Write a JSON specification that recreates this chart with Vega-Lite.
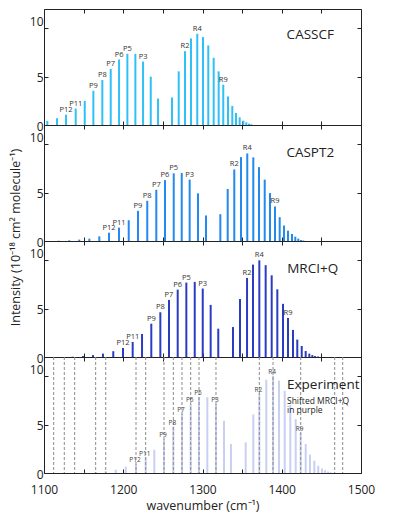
{
  "$schema": "https://vega.github.io/schema/vega-lite/v6.json",
  "padding": {"left": 8, "top": 8, "right": 5, "bottom": 5},
  "config": {
    "font": "Open Sans",
    "view": {"stroke": "#222", "strokeWidth": 1},
    "text": {"fontWeight": "normal", "font": "Open Sans"},
    "axis": {"grid": false, "domain": false, "tickColor": "#222", "tickSize": -4, "labelFontSize": 12, "labelColor": "#222", "titleFontSize": 12.5, "titleFontWeight": "normal", "titleColor": "#222", "labelFont": "Open Sans", "titleFont": "Open Sans", "labelFlush": false}
  },
  "datasets": {
    "casscf": [
      {"wn": 1104.2, "I": 0.42, "lab": ""}, {"wn": 1116.4, "I": 0.70, "lab": ""},
      {"wn": 1127.8, "I": 1.07, "lab": "P12"}, {"wn": 1140.0, "I": 1.70, "lab": "P11"},
      {"wn": 1151.4, "I": 2.50, "lab": ""}, {"wn": 1162.3, "I": 3.54, "lab": "P9"},
      {"wn": 1173.6, "I": 4.65, "lab": "P8"}, {"wn": 1184.2, "I": 5.80, "lab": "P7"},
      {"wn": 1194.7, "I": 6.77, "lab": "P6"}, {"wn": 1205.2, "I": 7.36, "lab": "P5"},
      {"wn": 1215.3, "I": 7.36, "lab": ""}, {"wn": 1225.0, "I": 6.56, "lab": "P3"},
      {"wn": 1234.7, "I": 5.00, "lab": ""}, {"wn": 1243.9, "I": 2.74, "lab": ""},
      {"wn": 1261.5, "I": 2.85, "lab": ""}, {"wn": 1270.0, "I": 5.55, "lab": ""},
      {"wn": 1277.9, "I": 7.64, "lab": "R2"}, {"wn": 1285.5, "I": 8.96, "lab": ""},
      {"wn": 1293.4, "I": 9.44, "lab": "R4"}, {"wn": 1300.6, "I": 9.10, "lab": ""},
      {"wn": 1307.3, "I": 8.23, "lab": ""}, {"wn": 1314.1, "I": 6.95, "lab": ""},
      {"wn": 1320.4, "I": 5.55, "lab": ""}, {"wn": 1326.2, "I": 4.17, "lab": "R9"},
      {"wn": 1332.2, "I": 2.95, "lab": ""}, {"wn": 1337.6, "I": 1.98, "lab": ""},
      {"wn": 1342.3, "I": 1.25, "lab": ""}, {"wn": 1346.9, "I": 0.80, "lab": ""},
      {"wn": 1351.5, "I": 0.45, "lab": ""}, {"wn": 1355.3, "I": 0.28, "lab": ""},
      {"wn": 1358.7, "I": 0.14, "lab": ""}, {"wn": 1361.6, "I": 0.08, "lab": ""}
    ],
    "caspt2": [
      {"wn": 1118.5, "I": 0.03, "lab": ""}, {"wn": 1131.9, "I": 0.07, "lab": ""},
      {"wn": 1144.5, "I": 0.14, "lab": ""}, {"wn": 1157.2, "I": 0.24, "lab": ""},
      {"wn": 1169.8, "I": 0.48, "lab": ""}, {"wn": 1182.0, "I": 0.86, "lab": "P12"},
      {"wn": 1194.6, "I": 1.38, "lab": "P11"}, {"wn": 1206.9, "I": 2.15, "lab": ""},
      {"wn": 1218.6, "I": 3.12, "lab": "P9"}, {"wn": 1230.3, "I": 4.16, "lab": "P8"},
      {"wn": 1241.7, "I": 5.30, "lab": "P7"}, {"wn": 1252.7, "I": 6.30, "lab": "P6"},
      {"wn": 1263.7, "I": 7.00, "lab": "P5"}, {"wn": 1273.8, "I": 7.04, "lab": ""},
      {"wn": 1283.8, "I": 6.35, "lab": "P3"}, {"wn": 1294.3, "I": 4.93, "lab": ""},
      {"wn": 1304.4, "I": 2.64, "lab": ""}, {"wn": 1322.5, "I": 2.77, "lab": ""},
      {"wn": 1331.8, "I": 5.38, "lab": ""}, {"wn": 1340.1, "I": 7.40, "lab": "R2"},
      {"wn": 1348.6, "I": 8.68, "lab": ""}, {"wn": 1356.5, "I": 9.06, "lab": "R4"},
      {"wn": 1364.1, "I": 8.65, "lab": ""}, {"wn": 1371.3, "I": 7.64, "lab": ""},
      {"wn": 1378.5, "I": 6.35, "lab": ""}, {"wn": 1385.2, "I": 4.96, "lab": ""},
      {"wn": 1391.5, "I": 3.57, "lab": "R9"}, {"wn": 1397.4, "I": 2.46, "lab": ""},
      {"wn": 1402.8, "I": 1.60, "lab": ""}, {"wn": 1407.9, "I": 1.07, "lab": ""},
      {"wn": 1412.9, "I": 0.73, "lab": ""}, {"wn": 1417.1, "I": 0.45, "lab": ""},
      {"wn": 1420.9, "I": 0.24, "lab": ""}, {"wn": 1424.3, "I": 0.10, "lab": ""},
      {"wn": 1427.2, "I": 0.05, "lab": ""}
    ],
    "mrci": [
      {"wn": 1136.2, "I": 0.03, "lab": ""}, {"wn": 1149.2, "I": 0.10, "lab": ""},
      {"wn": 1161.8, "I": 0.20, "lab": ""}, {"wn": 1174.4, "I": 0.35, "lab": ""},
      {"wn": 1187.4, "I": 0.60, "lab": ""}, {"wn": 1199.7, "I": 0.93, "lab": "P12"},
      {"wn": 1211.9, "I": 1.55, "lab": "P11"}, {"wn": 1223.7, "I": 2.38, "lab": ""},
      {"wn": 1235.4, "I": 3.45, "lab": "P9"}, {"wn": 1246.8, "I": 4.63, "lab": "P8"},
      {"wn": 1257.7, "I": 5.90, "lab": "P7"}, {"wn": 1268.7, "I": 6.97, "lab": "P6"},
      {"wn": 1279.6, "I": 7.70, "lab": "P5"}, {"wn": 1290.2, "I": 7.77, "lab": ""},
      {"wn": 1300.3, "I": 7.08, "lab": "P3"}, {"wn": 1310.3, "I": 5.39, "lab": ""},
      {"wn": 1319.9, "I": 2.93, "lab": ""}, {"wn": 1338.5, "I": 3.10, "lab": ""},
      {"wn": 1347.3, "I": 6.00, "lab": ""}, {"wn": 1356.2, "I": 8.18, "lab": "R2"},
      {"wn": 1363.7, "I": 9.56, "lab": ""}, {"wn": 1371.7, "I": 10.00, "lab": "R4"},
      {"wn": 1379.7, "I": 9.50, "lab": ""}, {"wn": 1387.3, "I": 8.45, "lab": ""},
      {"wn": 1394.4, "I": 7.00, "lab": ""}, {"wn": 1401.6, "I": 5.50, "lab": ""},
      {"wn": 1407.9, "I": 4.04, "lab": "R9"}, {"wn": 1414.2, "I": 2.80, "lab": ""},
      {"wn": 1419.6, "I": 1.80, "lab": ""}, {"wn": 1425.2, "I": 1.14, "lab": ""},
      {"wn": 1430.2, "I": 0.62, "lab": ""}, {"wn": 1434.8, "I": 0.35, "lab": ""},
      {"wn": 1438.6, "I": 0.20, "lab": ""}, {"wn": 1442.0, "I": 0.10, "lab": ""},
      {"wn": 1445.7, "I": 0.05, "lab": ""}
    ],
    "expbars": [
      {"wn": 1152.2, "I": 0.03, "lab": ""}, {"wn": 1165.2, "I": 0.10, "lab": ""},
      {"wn": 1177.9, "I": 0.20, "lab": ""}, {"wn": 1190.5, "I": 0.35, "lab": ""},
      {"wn": 1203.1, "I": 0.65, "lab": ""}, {"wn": 1216.1, "I": 0.95, "lab": "P12"},
      {"wn": 1228.3, "I": 1.60, "lab": "P11"}, {"wn": 1239.2, "I": 2.40, "lab": ""},
      {"wn": 1251.4, "I": 3.50, "lab": "P9"}, {"wn": 1263.2, "I": 4.80, "lab": "P8"},
      {"wn": 1274.1, "I": 6.10, "lab": "P7"}, {"wn": 1285.1, "I": 7.10, "lab": "P6"},
      {"wn": 1295.6, "I": 7.83, "lab": "P5"}, {"wn": 1306.1, "I": 7.83, "lab": ""},
      {"wn": 1317.0, "I": 7.15, "lab": "P3"}, {"wn": 1327.1, "I": 5.40, "lab": ""},
      {"wn": 1335.9, "I": 3.00, "lab": ""}, {"wn": 1354.5, "I": 3.17, "lab": ""},
      {"wn": 1364.1, "I": 6.05, "lab": ""}, {"wn": 1371.7, "I": 8.20, "lab": "R2"},
      {"wn": 1380.5, "I": 9.65, "lab": ""}, {"wn": 1389.0, "I": 10.05, "lab": "R4"},
      {"wn": 1396.5, "I": 9.55, "lab": ""}, {"wn": 1403.7, "I": 8.50, "lab": ""},
      {"wn": 1410.8, "I": 7.05, "lab": ""}, {"wn": 1417.6, "I": 5.57, "lab": ""},
      {"wn": 1423.9, "I": 4.15, "lab": "R9"}, {"wn": 1430.2, "I": 3.00, "lab": ""},
      {"wn": 1435.6, "I": 1.90, "lab": ""}, {"wn": 1441.1, "I": 1.27, "lab": ""},
      {"wn": 1446.1, "I": 0.75, "lab": ""}, {"wn": 1450.8, "I": 0.47, "lab": ""},
      {"wn": 1454.6, "I": 0.30, "lab": ""}, {"wn": 1458.4, "I": 0.15, "lab": ""},
      {"wn": 1461.8, "I": 0.08, "lab": ""}
    ],
    "explines": [
      {"wn": 1112.2}, {"wn": 1125.6}, {"wn": 1138.7}, {"wn": 1165.2}, {"wn": 1177.9},
      {"wn": 1216.1}, {"wn": 1228.3}, {"wn": 1251.4}, {"wn": 1263.2}, {"wn": 1274.1},
      {"wn": 1285.1}, {"wn": 1295.6}, {"wn": 1317.0}, {"wn": 1371.7}, {"wn": 1389.0},
      {"wn": 1423.9}, {"wn": 1466.8}, {"wn": 1476.9}
    ],
    "one": [{}]
  },
  "spacing": 0,
  "bounds": "flush",
  "vconcat": [
    {
      "width": 317, "height": 116,
      "layer": [
        {"data": {"name": "casscf"},
         "mark": {"type": "rule", "strokeWidth": 2, "color": "#2fc1f5"},
         "encoding": {
           "x": {"field": "wn", "type": "quantitative", "scale": {"domain": [1100, 1500], "nice": false, "zero": false}, "axis": {"orient": "bottom", "values": [1100, 1150, 1200, 1250, 1300, 1350, 1400, 1450, 1500], "labels": false, "title": null}},
           "y": {"field": "I", "type": "quantitative", "scale": {"domain": [0, 12], "nice": false}, "axis": {"orient": "left", "values": [0, 5, 10], "title": null, "labelPadding": 5, "labelOffset": {"condition": {"test": "datum.value === 10", "value": -7}, "value": 1}}},
           "y2": {"datum": 0}
         }},
        {"data": {"name": "casscf"},
         "transform": [{"filter": "datum.lab"}],
         "mark": {"type": "text", "fontSize": 7.5, "baseline": "bottom", "dy": -1, "color": "#333"},
         "encoding": {
           "x": {"field": "wn", "type": "quantitative", "axis": {"orient": "top", "values": [1100, 1150, 1200, 1250, 1300, 1350, 1400, 1450, 1500], "labels": false, "title": null}},
           "y": {"field": "I", "type": "quantitative", "axis": {"orient": "right", "values": [0, 5, 10], "labels": false, "title": null}},
           "text": {"field": "lab"}
         }},
        {"data": {"name": "one"},
         "mark": {"type": "text", "fontSize": 13.5, "color": "#222"},
         "encoding": {"x": {"datum": 1436, "type": "quantitative", "axis": null}, "y": {"datum": 9.3, "type": "quantitative", "axis": null}, "text": {"value": "CASSCF"}}}
      ],
      "resolve": {"axis": {"x": "independent", "y": "independent"}}
    },
    {
      "width": 317, "height": 116,
      "layer": [
        {"data": {"name": "caspt2"},
         "mark": {"type": "rule", "strokeWidth": 2, "color": "#2189ef"},
         "encoding": {
           "x": {"field": "wn", "type": "quantitative", "scale": {"domain": [1100, 1500], "nice": false, "zero": false}, "axis": {"orient": "bottom", "values": [1100, 1150, 1200, 1250, 1300, 1350, 1400, 1450, 1500], "labels": false, "title": null}},
           "y": {"field": "I", "type": "quantitative", "scale": {"domain": [0, 12], "nice": false}, "axis": {"orient": "left", "values": [0, 5, 10], "title": "Intensity (10⁻¹⁸ cm² molecule⁻¹)", "titleY": 112, "titlePadding": 7, "labelPadding": 5, "labelOffset": {"condition": {"test": "datum.value === 10", "value": -7}, "value": 1}}},
           "y2": {"datum": 0}
         }},
        {"data": {"name": "caspt2"},
         "transform": [{"filter": "datum.lab"}],
         "mark": {"type": "text", "fontSize": 7.5, "baseline": "bottom", "dy": -1, "color": "#333"},
         "encoding": {
           "x": {"field": "wn", "type": "quantitative", "axis": {"orient": "top", "values": [1100, 1150, 1200, 1250, 1300, 1350, 1400, 1450, 1500], "labels": false, "title": null}},
           "y": {"field": "I", "type": "quantitative", "axis": {"orient": "right", "values": [0, 5, 10], "labels": false, "title": null}},
           "text": {"field": "lab"}
         }},
        {"data": {"name": "one"},
         "mark": {"type": "text", "fontSize": 13.5, "color": "#222"},
         "encoding": {"x": {"datum": 1436, "type": "quantitative", "axis": null}, "y": {"datum": 9.1, "type": "quantitative", "axis": null}, "text": {"value": "CASPT2"}}}
      ],
      "resolve": {"axis": {"x": "independent", "y": "independent"}}
    },
    {
      "width": 317, "height": 116,
      "layer": [
        {"data": {"name": "mrci"},
         "mark": {"type": "rule", "strokeWidth": 2, "color": "#2a3cc2"},
         "encoding": {
           "x": {"field": "wn", "type": "quantitative", "scale": {"domain": [1100, 1500], "nice": false, "zero": false}, "axis": {"orient": "bottom", "values": [1100, 1150, 1200, 1250, 1300, 1350, 1400, 1450, 1500], "labels": false, "title": null}},
           "y": {"field": "I", "type": "quantitative", "scale": {"domain": [0, 12], "nice": false}, "axis": {"orient": "left", "values": [0, 5, 10], "title": null, "labelPadding": 5, "labelOffset": {"condition": {"test": "datum.value === 10", "value": -7}, "value": 1}}},
           "y2": {"datum": 0}
         }},
        {"data": {"name": "mrci"},
         "transform": [{"filter": "datum.lab"}],
         "mark": {"type": "text", "fontSize": 7.5, "baseline": "bottom", "dy": -1, "color": "#333"},
         "encoding": {
           "x": {"field": "wn", "type": "quantitative", "axis": {"orient": "top", "values": [1100, 1150, 1200, 1250, 1300, 1350, 1400, 1450, 1500], "labels": false, "title": null}},
           "y": {"field": "I", "type": "quantitative", "axis": {"orient": "right", "values": [0, 5, 10], "labels": false, "title": null}},
           "text": {"field": "lab"}
         }},
        {"data": {"name": "one"},
         "mark": {"type": "text", "fontSize": 13.5, "color": "#222"},
         "encoding": {"x": {"datum": 1439, "type": "quantitative", "axis": null}, "y": {"datum": 9.1, "type": "quantitative", "axis": null}, "text": {"value": "MRCI+Q"}}}
      ],
      "resolve": {"axis": {"x": "independent", "y": "independent"}}
    },
    {
      "width": 317, "height": 116,
      "layer": [
        {"data": {"name": "expbars"},
         "mark": {"type": "rule", "strokeWidth": 2, "color": "#c8cff2"},
         "encoding": {
           "x": {"field": "wn", "type": "quantitative", "scale": {"domain": [1100, 1500], "nice": false, "zero": false}, "axis": {"orient": "bottom", "values": [1100, 1150, 1200, 1250, 1300, 1350, 1400, 1450, 1500], "format": "d", "labelExpr": "datum.value % 100 === 0 ? datum.label : ''", "labelPadding": 15, "title": "wavenumber (cm⁻¹)", "titlePadding": 4}},
           "y": {"field": "I", "type": "quantitative", "scale": {"domain": [0, 12], "nice": false}, "axis": {"orient": "left", "values": [0, 5, 10], "title": null, "labelPadding": 5, "labelOffset": {"condition": {"test": "datum.value === 10", "value": -7}, "value": 1}}},
           "y2": {"datum": 0}
         }},
        {"data": {"name": "explines"},
         "mark": {"type": "rule", "strokeWidth": 1, "color": "#8c8c8c", "strokeDash": [3, 2]},
         "encoding": {"x": {"field": "wn", "type": "quantitative", "axis": null}}},
        {"data": {"name": "expbars"},
         "transform": [{"filter": "datum.lab"}],
         "mark": {"type": "text", "fontSize": 6.5, "baseline": "bottom", "dy": -1, "dx": -1, "color": "#444"},
         "encoding": {
           "x": {"field": "wn", "type": "quantitative", "axis": {"orient": "top", "values": [1100, 1150, 1200, 1250, 1300, 1350, 1400, 1450, 1500], "labels": false, "title": null}},
           "y": {"field": "I", "type": "quantitative", "axis": {"orient": "right", "values": [0, 5, 10], "labels": false, "title": null}},
           "text": {"field": "lab"}
         }},
        {"data": {"name": "one"},
         "mark": {"type": "text", "fontSize": 13.5, "color": "#222", "align": "left"},
         "encoding": {"x": {"datum": 1406.6, "type": "quantitative", "axis": null}, "y": {"datum": 9.15, "type": "quantitative", "axis": null}, "text": {"value": "Experiment"}}},
        {"data": {"name": "one"},
         "mark": {"type": "text", "fontSize": 8.5, "color": "#222", "align": "left", "lineHeight": 9.5},
         "encoding": {"x": {"datum": 1406.6, "type": "quantitative", "axis": null}, "y": {"datum": 7.5, "type": "quantitative", "axis": null}, "text": {"value": ["Shifted MRCI+Q", "in purple"]}}}
      ],
      "resolve": {"axis": {"x": "independent", "y": "independent"}}
    }
  ]
}
